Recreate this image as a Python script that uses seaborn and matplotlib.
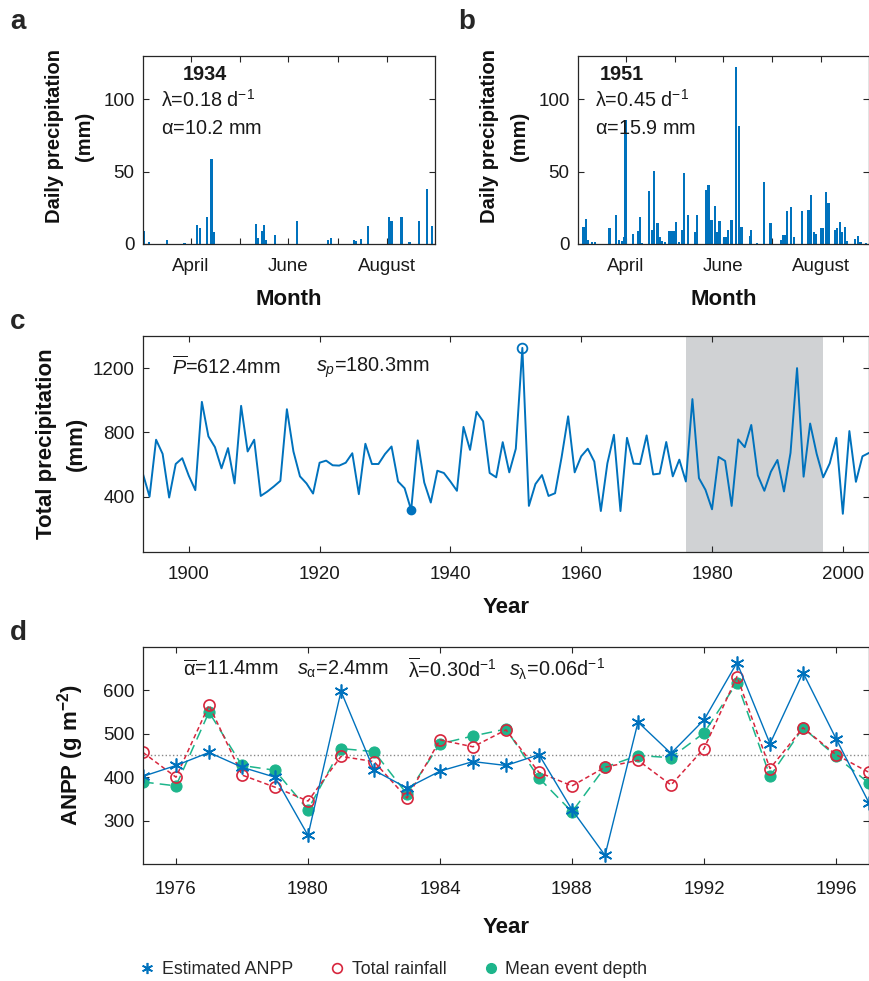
import numpy as np
import pandas as pd
import matplotlib
matplotlib.use('Agg')
import matplotlib.pyplot as plt
from matplotlib.lines import Line2D
import seaborn as sns

# ---- panel a: daily rain 1934 (days since 1 March)
days_1934 = [0.6, 4, 15, 26, 34, 35.5, 40, 43, 44.5, 70.8, 72, 74.4, 75.6, 77, 82.7,
             96.4, 116, 117.6, 132, 133.5, 136.5, 141, 154, 155.7, 162, 167, 173, 178, 181]
mm_1934 = [9, 1.6, 3, 1, 13, 11, 19, 58.7, 8.5, 14, 4, 9, 13, 3, 6,
           16, 2.5, 4, 2.5, 2, 3.7, 12.6, 19, 16, 19, 1.4, 16, 38, 12.6]

# ---- panel b: daily rain 1951
days_1951 = [3.4, 4.8, 6.5, 9, 10.7, 19.8, 23.8, 25.7, 28, 29, 29.8, 34.6, 37.5, 38.8, 40,
             44.8, 46.5, 48, 50, 51.3, 52.7, 54.8, 57.5, 59, 60.5, 61.7, 63.6, 65.7, 66.7, 69,
             73.6, 75, 80.5, 82, 84, 86, 87.5, 89, 91.7, 93, 94.4, 96.5, 99.2, 101.3, 102.8,
             108, 109, 112.7, 117, 121, 127.8, 129, 130.3, 131.5, 134, 135.7, 141, 145, 146.5,
             148.2, 149.6, 152.7, 154, 155.9, 157.5, 161.7, 163, 164.6, 166, 168, 169, 174,
             176, 177.7, 181]
mm_1951 = [12, 17, 2.5, 1.4, 1.1, 11.4, 19.8, 2.7, 1.8, 5, 85.7, 6.6, 9, 18.9, 0.7,
           36.6, 10, 50.5, 14.8, 4.5, 2.3, 1.4, 9.3, 9, 9, 15, 1.6, 10, 49, 19.8,
           8.2, 19.8, 37.5, 40.7, 16.4, 26, 8.2, 15.7, 4.5, 5, 9.5, 16.4, 122.7, 81.8, 12,
           5.7, 10, 0.9, 43.2, 14.3, 2.7, 6, 6, 23, 25.7, 4.5, 22.5, 23.6, 34,
           8.6, 6.8, 11.4, 11, 36, 28.4, 10, 11, 15.5, 8, 11.6, 1.8, 3.4,
           5.2, 1.1, 0.7]

month_ticks = [30, 61, 91, 122, 153]
month_labels = ['April', '', 'June', '', 'August']

# ---- panel c: annual precipitation 1893-2004
years_c = list(range(1893, 2005))
precip = [540, 400, 754, 666, 394, 603, 639, 530, 440, 990,
          775, 708, 576, 702, 482, 965, 681, 754, 404, 431,
          463, 498, 944, 681, 526, 482, 419, 611, 624, 595,
          593, 611, 670, 415, 729, 603, 603, 665, 712, 494,
          452, 316, 750, 488, 363, 561, 547, 494, 436, 834,
          691, 928, 869, 547, 520, 739, 551, 698, 1326, 342,
          478, 534, 404, 421, 645, 900, 551, 651, 698, 618,
          310, 607, 785, 310, 766, 605, 603, 781, 538, 543,
          740, 526, 630, 494, 1007, 515, 442, 321, 647, 622,
          342, 756, 708, 846, 532, 436, 555, 628, 432, 672,
          1200, 524, 855, 666, 520, 607, 766, 293, 808, 492,
          651, 672]
dry_year, wet_year = 1934, 1951

# ---- panel d: ANPP 1975-1997
years_d = list(range(1975, 1998))
anpp_est = [402, 427, 457, 423, 400, 266, 598, 416, 375, 414, 436, 427,
            452, 325, 220, 527, 455, 532, 664, 477, 641, 489, 341]
anpp_total = [457, 400, 566, 405, 377, 345, 448, 436, 352, 486, 470, 509,
              411, 380, 423, 439, 382, 466, 632, 420, 514, 452, 411]
anpp_depth = [389, 380, 550, 427, 416, 325, 466, 459, 361, 477, 495, 511,
              398, 320, 423, 450, 445, 502, 618, 402, 514, 448, 386]
anpp_mean = 452

blue = '#0072BD'
red = '#D7263D'
green = '#1DB58B'
axcol = '#262626'

sns.set_theme(style='ticks')
plt.rcParams['font.family'] = ['Liberation Sans', 'DejaVu Sans']
plt.rcParams['mathtext.fontset'] = 'custom'
plt.rcParams['mathtext.rm'] = 'Liberation Sans'
plt.rcParams['mathtext.it'] = 'Liberation Sans:italic'
plt.rcParams['mathtext.bf'] = 'Liberation Sans:bold'
plt.rcParams['axes.edgecolor'] = axcol
plt.rcParams['axes.linewidth'] = 0.9
plt.rcParams['xtick.color'] = axcol
plt.rcParams['ytick.color'] = axcol

fig = plt.figure(figsize=(8.69, 9.81), dpi=100)
W, H = 869, 981


def add_ax(x0, y0, x1, y1):
    return fig.add_axes([x0 / W, 1 - y1 / H, (x1 - x0) / W, (y1 - y0) / H])


def style(ax):
    ax.tick_params(direction='in', top=True, right=True, length=4, width=0.8,
                   labelsize=13.5, labelcolor='#1a1a1a')
    ax.tick_params(axis='x', pad=10)
    ax.tick_params(axis='y', pad=6)


ax_a = add_ax(143, 56, 435, 244)
ax_b = add_ax(578, 56, 869, 244)
ax_c = add_ax(143, 336, 869, 552)
ax_d = add_ax(143, 647, 869, 864)

lab = dict(fontsize=16, fontweight='bold', color='#111111')
ann = 14.3

for ax, d, v, yr, lam, alp, yx in [(ax_a, days_1934, mm_1934, '1934', '0.18', '10.2', 0.212),
                                   (ax_b, days_1951, mm_1951, '1951', '0.45', '15.9', 0.151)]:
    ax.bar(d, v, width=1.4, color=blue, linewidth=0)
    ax.set_xlim(0, 183)
    ax.set_ylim(0, 130)
    ax.set_xticks(month_ticks)
    ax.set_xticklabels(month_labels)
    ax.set_yticks([0, 50, 100])
    style(ax)
    ax.set_xlabel('Month', labelpad=10, **lab)
    ax.set_ylabel('Daily precipitation\n(mm)', linespacing=1.75,
                  fontsize=14.5, fontweight='bold', color='#111111')
    ax.yaxis.set_label_coords(-0.168, 0.575)
    ax.text(yx, 0.9, yr, transform=ax.transAxes, ha='center', va='center',
            fontsize=ann, fontweight='bold', color='#1a1a1a')
    ax.text(0.06, 0.765, r'$\mathrm{\lambda}$=' + lam + r' d$^{\mathrm{-1}}$',
            transform=ax.transAxes, ha='left', va='center', fontsize=ann, color='#1a1a1a')
    ax.text(0.06, 0.615, r'$\mathrm{\alpha}$=' + alp + ' mm',
            transform=ax.transAxes, ha='left', va='center', fontsize=ann, color='#1a1a1a')

# panel c
ax_c.axvspan(1976, 1997, color='#D0D2D4', linewidth=0, zorder=0)
sns.lineplot(x=years_c, y=precip, ax=ax_c, color=blue, linewidth=1.4)
i_dry = years_c.index(dry_year)
i_wet = years_c.index(wet_year)
ax_c.plot(years_c[i_dry], precip[i_dry], 'o', color=blue, markersize=6)
ax_c.plot(years_c[i_wet], precip[i_wet], 'o', mfc='none', mec=blue, mew=1.3, markersize=7)
ax_c.set_xlim(1893, 2004)
ax_c.set_ylim(55, 1400)
ax_c.set_xticks(range(1900, 2001, 20))
ax_c.set_yticks([400, 800, 1200])
style(ax_c)
ax_c.set_xlabel('Year', labelpad=10, **lab)
ax_c.set_ylabel('Total precipitation\n(mm)', labelpad=4, linespacing=1.6, **lab)
ax_c.text(0.04, 0.855, r'$\overline{P}$=612.4mm', transform=ax_c.transAxes,
          ha='left', va='center', fontsize=ann, color='#1a1a1a')
ax_c.text(0.238, 0.855, r'$s_p$=180.3mm', transform=ax_c.transAxes,
          ha='left', va='center', fontsize=ann, color='#1a1a1a')

# panel d
ax_d.axhline(anpp_mean, color='#888888', linestyle=':', linewidth=1)
sns.lineplot(x=years_d, y=anpp_depth, ax=ax_d, color=green, linewidth=1.1,
             marker='o', markersize=8, markeredgecolor=green)
ax_d.lines[-1].set_dashes([7, 4])
sns.lineplot(x=years_d, y=anpp_total, ax=ax_d, color=red, linewidth=1.1,
             marker='o', markersize=8, markerfacecolor='none', markeredgecolor=red,
             markeredgewidth=1.2)
ax_d.lines[-1].set_dashes([3, 2])
sns.lineplot(x=years_d, y=anpp_est, ax=ax_d, color=blue, linewidth=1.0,
             marker='*', markersize=10, markeredgecolor=blue)
ax_d.lines[-1].set_marker((6, 2, 0))
ax_d.lines[-1].set_markeredgewidth(1.2)
ax_d.set_xlim(1975, 1997)
ax_d.set_ylim(200, 700)
ax_d.set_xticks(range(1976, 1997, 4))
ax_d.set_yticks([300, 400, 500, 600])
style(ax_d)
ax_d.tick_params(axis='x', pad=12)
ax_d.set_xlabel('Year', labelpad=14, **lab)
ax_d.set_ylabel(r'ANPP (g m$^{\mathbf{-2}}$)', labelpad=12, **lab)
for xf, s in [(0.055, r'$\overline{\mathrm{\alpha}}$=11.4mm'),
              (0.212, r'$s_{\mathrm{\alpha}}$=2.4mm'),
              (0.365, r'$\overline{\mathrm{\lambda}}$=0.30d$^{\mathrm{-1}}$'),
              (0.504, r'$s_{\mathrm{\lambda}}$=0.06d$^{\mathrm{-1}}$')]:
    ax_d.text(xf, 0.895, s, transform=ax_d.transAxes, ha='left', va='center',
              fontsize=ann, color='#1a1a1a')

# panel letters
for x, y, t in [(10, 22, 'a'), (458, 22, 'b'), (10, 322, 'c'), (10, 633, 'd')]:
    fig.text(x / W, 1 - y / H, t, fontsize=20, fontweight='bold', va='center')

handles = [Line2D([], [], color=blue, marker=(6, 2, 0), linestyle='none',
                  markersize=8, markeredgewidth=1.2),
           Line2D([], [], color=red, marker='o', linestyle='none', markersize=7,
                  markerfacecolor='none', markeredgewidth=1.2),
           Line2D([], [], color=green, marker='o', linestyle='none', markersize=7)]
fig.legend(handles, ['Estimated ANPP', 'Total rainfall', 'Mean event depth'],
           loc='center', bbox_to_anchor=(0.452, 1 - 970 / H), ncol=3, frameon=False,
           fontsize=12.8, handletextpad=0.3, columnspacing=2.0, handlelength=1.0)

fig.savefig('out.png', dpi=100)
